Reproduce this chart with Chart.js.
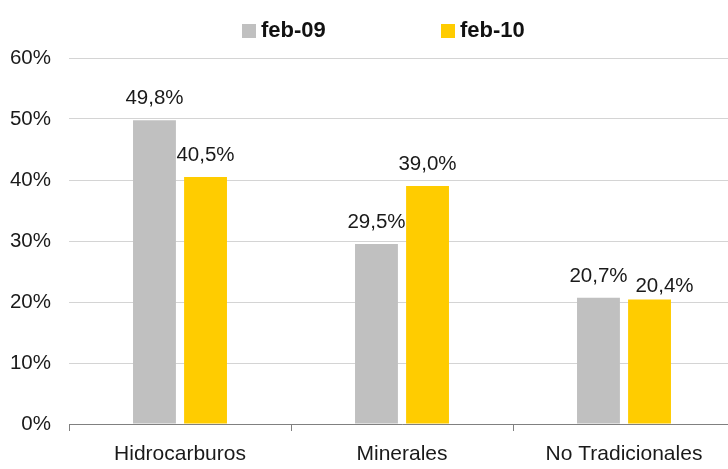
<!DOCTYPE html>
<html><head><meta charset="utf-8">
<script src="https://cdn.jsdelivr.net/npm/chart.js@4/dist/chart.umd.min.js"></script>
<style>
html,body{margin:0;padding:0;overflow:hidden;background:#fff;}
#wrap{width:740px;height:469px;position:relative;}
</style></head><body>
<div id="wrap"><canvas id="c" width="740" height="469"></canvas></div>
<script>
const categories = ["Hidrocarburos", "Minerales", "No Tradicionales"];
const seriesNames = ["feb-09", "feb-10"];
const feb09 = [49.8, 29.5, 20.7];
const feb10 = [40.5, 39.0, 20.4];
const colors = ["#C0C0C0", "#FFCC00"];
const FONT = "'Liberation Sans', Arial, sans-serif";

// label placement tweaks (Excel moved one label to avoid overlap): [dataset][category] = [dx, dy]
const labelNudge = [[[0,0],[0,0],[0,0]], [[0,0],[0,0],[15,8]]];

const labelPlugin = {
  id: 'labels',
  afterDatasetsDraw(chart) {
    const ctx = chart.ctx;
    ctx.save();
    ctx.font = "20.5px " + FONT;
    ctx.fillStyle = "#1a1a1a";
    ctx.textAlign = "center";
    ctx.textBaseline = "alphabetic";
    chart.data.datasets.forEach((ds, i) => {
      chart.getDatasetMeta(i).data.forEach((bar, j) => {
        const txt = ds.data[j].toFixed(1).replace('.', ',') + '%';
        const n = labelNudge[i][j];
        ctx.fillText(txt, bar.x + n[0], bar.y - 16 + n[1]);
      });
    });
    ctx.restore();
  }
};

const legendPlugin = {
  id: 'customLegend',
  afterDraw(chart) {
    const ctx = chart.ctx;
    ctx.save();
    ctx.font = "bold 22px " + FONT;
    ctx.textBaseline = "middle";
    ctx.textAlign = "left";
    const xs = [242, 441];
    chart.data.datasets.forEach((ds, i) => {
      ctx.fillStyle = ds.backgroundColor;
      ctx.fillRect(xs[i], 24, 14, 14);
      ctx.fillStyle = "#111";
      ctx.fillText(ds.label, xs[i] + 19, 31);
    });
    ctx.restore();
  }
};

new Chart(document.getElementById('c'), {
  type: 'bar',
  data: {
    labels: categories,
    datasets: [
      { label: seriesNames[0], data: feb09, backgroundColor: colors[0] },
      { label: seriesNames[1], data: feb10, backgroundColor: colors[1] }
    ]
  },
  options: {
    responsive: false,
    animation: false,
    events: [],
    layout: { padding: { top: 58, right: 5, left: 0, bottom: 0 } },
    datasets: { bar: { categoryPercentage: 0.46, barPercentage: 0.84 } },
    plugins: { legend: { display: false }, tooltip: { enabled: false } },
    scales: {
      x: {
        grid: { drawOnChartArea: false, drawTicks: true, tickLength: 7, offset: true, color: '#808080' },
        border: { color: '#808080', width: 1 },
        ticks: { color: '#1a1a1a', font: { family: FONT, size: 21 }, padding: 11, maxRotation: 0 },
        afterFit(s) { s.height = 45; }
      },
      y: {
        min: 0, max: 60,
        grid: { color: '#D4D4D4', drawTicks: false, lineWidth: 1 },
        border: { display: false },
        ticks: { stepSize: 10, color: '#1a1a1a', font: { family: FONT, size: 20.5 }, padding: 18,
          callback: v => v + '%' },
        afterFit(s) { s.width = 69; }
      }
    }
  },
  plugins: [labelPlugin, legendPlugin]
});
</script>
</body></html>
